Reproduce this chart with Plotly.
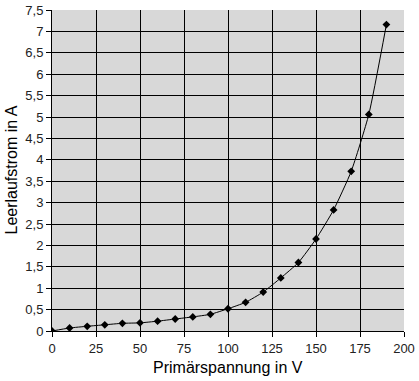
import plotly.graph_objects as go

spannung = [0, 10, 20, 30, 40, 50, 60, 70, 80, 90, 100, 110, 120, 130, 140, 150, 160, 170, 180, 190]
strom = [0.0, 0.07, 0.11, 0.145, 0.18, 0.19, 0.23, 0.28, 0.33, 0.39, 0.52, 0.67, 0.91, 1.24, 1.60, 2.15, 2.83, 3.73, 5.06, 7.16]

x_ticks = [0, 25, 50, 75, 100, 125, 150, 175, 200]
y_ticks = [0, 0.5, 1, 1.5, 2, 2.5, 3, 3.5, 4, 4.5, 5, 5.5, 6, 6.5, 7, 7.5]
y_labels = ["0", "0,5", "1", "1,5", "2", "2,5", "3", "3,5", "4", "4,5", "5", "5,5", "6", "6,5", "7", "7,5"]

fig = go.Figure()
fig.add_trace(go.Scatter(
    x=spannung, y=strom, mode="lines+markers",
    line=dict(color="black", width=1, shape="spline", smoothing=0.5),
    marker=dict(symbol="diamond", size=6, color="black"),
    showlegend=False,
))

fig.update_layout(
    width=419, height=381,
    margin=dict(l=52, r=15, t=10, b=50, autoexpand=False),
    paper_bgcolor="white",
    plot_bgcolor="#D8D8D8",
    font=dict(family="Liberation Sans, Arial, sans-serif", color="black"),
    annotations=[
        dict(text="Primärspannung in V", xref="paper", yref="paper", x=0.5, y=0,
             xanchor="center", yanchor="top", yshift=-26, showarrow=False,
             font=dict(size=16)),
        dict(text="Leerlaufstrom in A", xref="paper", yref="paper", x=0, y=0.5,
             xanchor="center", yanchor="middle", xshift=-41, textangle=-90,
             showarrow=False, font=dict(size=16)),
    ],
)
fig.update_xaxes(
    range=[0, 200], tickvals=x_ticks, ticktext=[str(v) for v in x_ticks],
    showgrid=True, gridcolor="black", gridwidth=1, automargin=False,
    showline=True, linecolor="black", linewidth=1, mirror=False,
    ticks="outside", ticklen=5, tickcolor="black",
    tickfont=dict(size=13, color="#222222"), zeroline=False,
)
fig.update_yaxes(
    range=[0, 7.5], tickvals=y_ticks, ticktext=y_labels,
    showgrid=True, gridcolor="black", gridwidth=1, automargin=False,
    showline=True, linecolor="black", linewidth=1,
    ticks="outside", ticklen=5, tickcolor="black",
    tickfont=dict(size=13, color="#222222"), zeroline=False,
)

fig.write_html("out.html", config={"displayModeBar": False},
               post_script="document.body.style.margin='0px';")
